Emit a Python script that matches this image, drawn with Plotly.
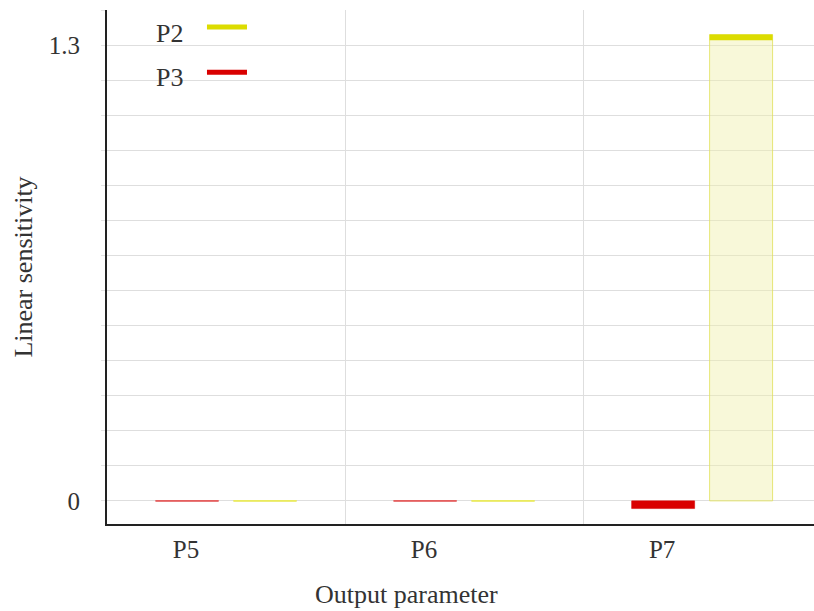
import plotly.graph_objects as go

# ---- data ----
categories = ["P5", "P6", "P7"]
p2_values = [0.0, 0.0, 1.33]
p3_values = [0.0, 0.0, -0.022]
y_tick_vals = [0, 1.3]
y_tick_text = ["0", "1.3"]

# ---- styles ----
FONT = "Liberation Serif"
TXT = "#333333"
GRID = "#dedede"
P2_LINE = "#dcdc00"
P2_FILL = "rgba(240,240,170,0.45)"
P2_EDGE = "rgba(225,225,90,0.8)"
P2_ZERO = "rgba(235,235,90,0.85)"
P3_LINE = "#d90000"
P3_FILL = "rgba(240,170,170,0.45)"
P3_EDGE = "rgba(225,90,90,0.8)"
P3_ZERO = "rgba(228,90,90,0.85)"
THICK = 0.016   # thickness of value marker (data units)
THIN = 0.005


def value_marker(vals, strong, pale):
    bases, heights, colors = [], [], []
    for v in vals:
        if v == 0:
            bases.append(-THIN / 2)
            heights.append(THIN)
            colors.append(pale)
        elif v > 0:
            bases.append(v - THICK)
            heights.append(THICK)
            colors.append(strong)
        else:
            bases.append(v)
            heights.append(-v if -v < 2 * THICK else THICK)
            colors.append(strong)
    return bases, heights, colors


fig = go.Figure()

# pale fill bars
for name, vals, fill, edge in [("P3", p3_values, P3_FILL, P3_EDGE),
                               ("P2", p2_values, P2_FILL, P2_EDGE)]:
    fig.add_trace(go.Bar(x=categories, y=vals, offsetgroup=name, name=name,
                         marker=dict(color=fill, line=dict(color=edge, width=1)),
                         showlegend=False, hoverinfo="skip"))

# thick value markers
for name, vals, strong, pale in [("P3", p3_values, P3_LINE, P3_ZERO),
                                 ("P2", p2_values, P2_LINE, P2_ZERO)]:
    b, h, c = value_marker(vals, strong, pale)
    fig.add_trace(go.Bar(x=categories, y=h, base=b, offsetgroup=name, name=name,
                         marker=dict(color=c, line=dict(width=0)),
                         showlegend=False))

# legend (text left of swatch, as in the reference)
legend_items = [("P2", P2_LINE, 0.955, 0.967), ("P3", P3_LINE, 0.868, 0.879)]
for label, col, ty, ly in legend_items:
    fig.add_annotation(x=0.089, y=ty, xref="paper", yref="paper", text=label,
                       showarrow=False, font=dict(family=FONT, size=26, color=TXT),
                       xanchor="center", yanchor="middle")
    fig.add_shape(type="line", xref="paper", yref="paper", x0=0.1414, x1=0.198,
                  y0=ly, y1=ly, line=dict(color=col, width=5))

# x-axis title (offset left like the reference)
fig.add_annotation(x=0.423, y=-0.138, xref="paper", yref="paper",
                   text="Output parameter", showarrow=False,
                   font=dict(family=FONT, size=26, color=TXT),
                   xanchor="center", yanchor="middle")

fig.update_layout(
    width=814, height=611,
    margin=dict(l=107, r=0, t=10, b=87),
    paper_bgcolor="white", plot_bgcolor="white",
    barmode="group", bargap=0.345, bargroupgap=0.192,
    showlegend=False,
    font=dict(family=FONT, size=26, color=TXT),
)
fig.update_xaxes(
    type="category", range=[-0.5, 2.47], tickson="boundaries",
    showgrid=True, gridcolor=GRID, gridwidth=1,
    ticks="", ticklabelshift=-40, ticklabelstandoff=2,
    showline=True, linecolor="#222", linewidth=2,
    tickfont=dict(family=FONT, size=25, color=TXT),
)
fig.update_yaxes(
    range=[-0.066, 1.4], tickvals=y_tick_vals, ticktext=y_tick_text,
    showgrid=True, gridcolor=GRID, gridwidth=1, zeroline=False,
    minor=dict(dtick=0.1, tick0=0, showgrid=True, gridcolor=GRID, gridwidth=1,
               ticks="outside", ticklen=4, tickcolor="#e4e4e4"),
    ticks="outside", ticklen=4, tickcolor="#e4e4e4",
    ticklabelstandoff=16,
    showline=True, linecolor="#222", linewidth=2,
    tickfont=dict(family=FONT, size=25, color=TXT),
    title=dict(text="Linear sensitivity", font=dict(family=FONT, size=26, color=TXT), standoff=9),
)

fig.write_html("out.html")
